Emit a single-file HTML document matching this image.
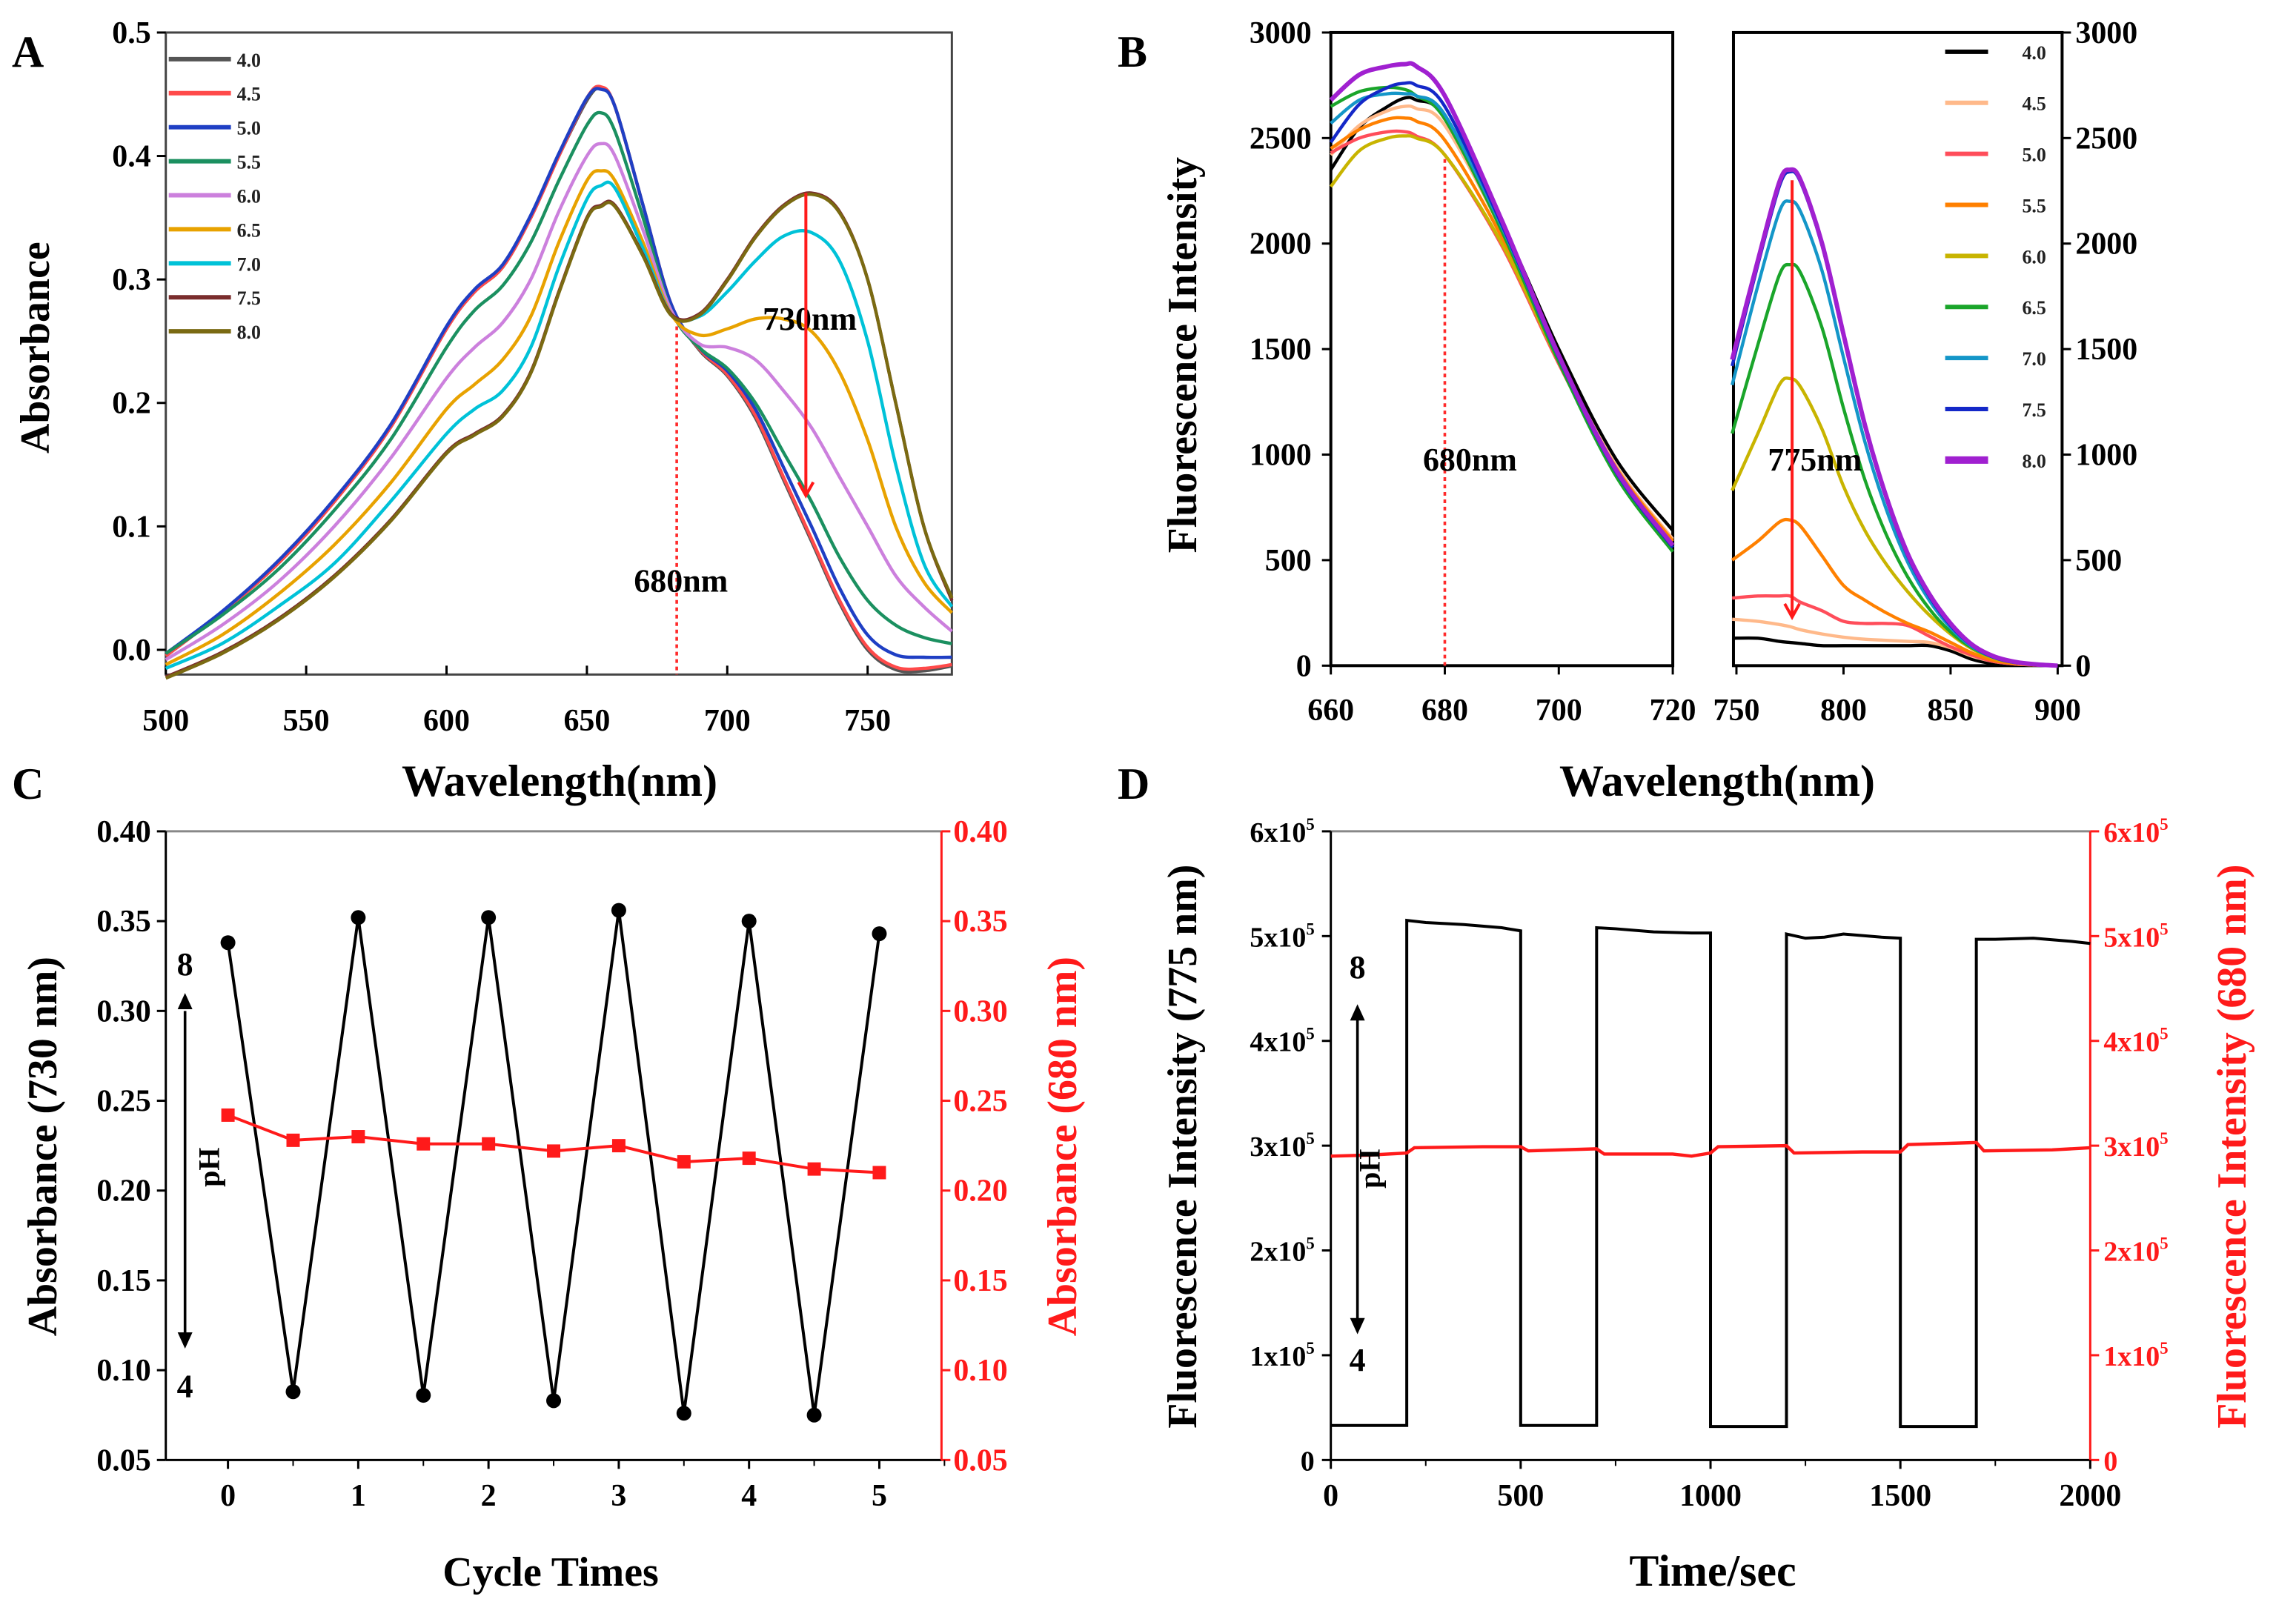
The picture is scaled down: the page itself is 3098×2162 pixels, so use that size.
<!DOCTYPE html>
<html><head><meta charset="utf-8"><title>pH response figure</title>
<style>html,body{margin:0;padding:0;background:#fff}svg{display:block}
text{font-family:"Liberation Serif",serif;font-weight:bold}</style></head>
<body>
<svg id="fig" xmlns="http://www.w3.org/2000/svg" width="3098" height="2162" viewBox="0 0 1551 1083" preserveAspectRatio="none">
<rect x="0" y="0" width="1551" height="1083" fill="#fff"/>
</svg>
<script>
// ---------- Panel A data ----------
const aWave = [500,520,540,560,580,600,610,620,630,640,650,655,660,670,680,690,700,710,720,730,740,750,760,770,780];
const aLabels = ['4.0','4.5','5.0','5.5','6.0','6.5','7.0','7.5','8.0'];
const aColors = ['#555555','#ff4a4a','#1f3fc4','#1b9060','#cc80dd','#e8a200','#00c2d8','#7a2d2d','#7a6a12'];
const aPH40 = [-0.005,0.03,0.07,0.12,0.18,0.26,0.29,0.31,0.35,0.40,0.445,0.455,0.44,0.36,0.28,0.243,0.222,0.188,0.138,0.088,0.038,0.0,-0.016,-0.017,-0.013];
const aPH45 = [-0.005,0.03,0.07,0.12,0.18,0.26,0.29,0.31,0.35,0.40,0.447,0.456,0.44,0.36,0.28,0.244,0.223,0.19,0.14,0.09,0.04,0.002,-0.014,-0.015,-0.012];
const aPH50 = [-0.003,0.031,0.072,0.122,0.182,0.262,0.292,0.312,0.352,0.402,0.447,0.454,0.44,0.36,0.28,0.245,0.226,0.195,0.148,0.1,0.05,0.012,-0.004,-0.006,-0.006];
const aPH55 = [-0.003,0.028,0.065,0.113,0.17,0.245,0.275,0.295,0.33,0.38,0.425,0.435,0.42,0.35,0.275,0.245,0.228,0.2,0.16,0.12,0.075,0.04,0.02,0.01,0.005];
const aPH60 = [-0.008,0.02,0.055,0.1,0.155,0.22,0.245,0.265,0.3,0.355,0.4,0.41,0.4,0.34,0.275,0.248,0.245,0.235,0.21,0.18,0.14,0.1,0.06,0.035,0.015];
const aPH65 = [-0.012,0.012,0.045,0.085,0.135,0.195,0.215,0.235,0.27,0.33,0.38,0.388,0.38,0.33,0.272,0.255,0.26,0.268,0.268,0.258,0.225,0.17,0.1,0.055,0.03];
const aPH70 = [-0.015,0.005,0.035,0.07,0.12,0.175,0.195,0.21,0.245,0.31,0.365,0.376,0.374,0.325,0.272,0.27,0.29,0.315,0.335,0.338,0.315,0.25,0.15,0.07,0.035];
const aPH75 = [-0.022,-0.002,0.025,0.06,0.105,0.16,0.175,0.19,0.225,0.29,0.35,0.36,0.36,0.32,0.272,0.272,0.3,0.335,0.36,0.37,0.355,0.3,0.2,0.1,0.04];
const aPH80 = [-0.023,-0.003,0.024,0.059,0.104,0.159,0.174,0.189,0.224,0.289,0.349,0.359,0.359,0.319,0.271,0.271,0.299,0.334,0.359,0.369,0.354,0.3,0.2,0.1,0.042];
const aXTicks = [500,550,600,650,700,750];
const aYTicks = [0.0,0.1,0.2,0.3,0.4,0.5];

// ---------- Panel B data ----------
const bLabels = ['4.0','4.5','5.0','5.5','6.0','6.5','7.0','7.5','8.0'];
const bColors = ['#000000','#ffb98a','#ff4d5a','#ff8000','#c8b400','#1aa52a','#1496c8','#1428c8','#a020d0'];
const bLeftWave = [660,665,670,673,675,680,690,700,710,720];
const bL40 = [2350,2550,2650,2690,2680,2600,2100,1500,980,640];
const bL45 = [2420,2560,2630,2650,2640,2560,2060,1460,950,600];
const bL50 = [2430,2500,2530,2530,2510,2420,1990,1430,930,590];
const bL55 = [2450,2540,2590,2595,2580,2490,2030,1450,940,590];
const bL60 = [2270,2440,2500,2510,2500,2420,2000,1440,930,570];
const bL65 = [2650,2720,2740,2730,2700,2590,2060,1440,900,540];
const bL70 = [2570,2680,2710,2710,2700,2610,2080,1460,920,560];
const bL75 = [2480,2660,2740,2760,2750,2650,2090,1460,920,560];
const bL80 = [2680,2800,2840,2850,2840,2700,2110,1470,930,570];
const bRightWave = [748,760,770,775,780,790,800,810,820,830,840,850,860,870,880,890,900];
const bR40 = [130,130,115,110,105,95,95,95,95,95,95,70,30,10,5,2,0];
const bR45 = [220,210,195,185,170,150,135,125,120,115,110,85,45,20,8,3,0];
const bR50 = [320,330,330,330,300,260,210,200,200,190,140,90,50,20,8,3,0];
const bR55 = [500,590,680,690,660,520,380,310,250,200,160,110,60,25,10,4,0];
const bR60 = [830,1100,1330,1360,1320,1120,850,640,480,350,240,150,80,35,15,5,0];
const bR65 = [1100,1520,1850,1900,1860,1600,1220,880,620,420,270,160,85,40,15,5,0];
const bR70 = [1330,1800,2150,2200,2150,1870,1460,1060,740,490,310,180,90,40,15,5,0];
const bR75 = [1420,1900,2270,2340,2290,1990,1560,1130,790,520,330,190,95,40,15,5,0];
const bR80 = [1450,1920,2290,2350,2300,2000,1570,1140,800,530,340,200,100,45,18,6,0];
const bYTicks = [0,500,1000,1500,2000,2500,3000];
const bLeftXTicks = [660,680,700,720];
const bRightXTicks = [750,800,850,900];

// ---------- Panel C data ----------
const cCycles = [0,0.5,1,1.5,2,2.5,3,3.5,4,4.5,5];
const cAbs730 = [0.338,0.088,0.352,0.086,0.352,0.083,0.356,0.076,0.350,0.075,0.343];
const cAbs680 = [0.242,0.228,0.230,0.226,0.226,0.222,0.225,0.216,0.218,0.212,0.210];
const cXTicks = [0,1,2,3,4,5];
const cYTicks = [0.05,0.10,0.15,0.20,0.25,0.30,0.35,0.40];

// ---------- Panel D data ----------
const dTime775 = [0,200,200,250,350,450,500,500,700,700,750,850,950,1000,1000,1200,1200,1250,1300,1350,1450,1500,1500,1700,1700,1750,1850,1950,2000];
const dInt775 = [0.33,0.33,5.15,5.13,5.11,5.08,5.05,0.33,0.33,5.08,5.07,5.04,5.03,5.03,0.32,0.32,5.02,4.98,4.99,5.02,4.99,4.98,0.32,0.32,4.97,4.97,4.98,4.95,4.93];
const dTime680 = [0,100,200,220,400,500,520,700,720,900,950,1000,1020,1200,1220,1400,1500,1520,1700,1720,1900,2000];
const dInt680 = [2.90,2.91,2.93,2.98,2.99,2.99,2.95,2.97,2.92,2.92,2.90,2.93,2.99,3.00,2.93,2.94,2.94,3.01,3.03,2.95,2.96,2.98];
const dXTicks = [0,500,1000,1500,2000];
const dYTicks = [0,1,2,3,4,5,6];

// ---------- helpers ----------
const NS='http://www.w3.org/2000/svg';
const svg=document.getElementById('fig');
function mk(tag,attrs,parent){const e=document.createElementNS(NS,tag);for(const k in attrs)e.setAttribute(k,attrs[k]);(parent||svg).appendChild(e);return e;}
function lin(d0,d1,r0,r1){return v=>r0+(v-d0)*(r1-r0)/(d1-d0);}
function smooth(pts){let d='M'+pts[0][0].toFixed(2)+','+pts[0][1].toFixed(2);
 for(let i=0;i<pts.length-1;i++){const p0=pts[i-1]||pts[i],p1=pts[i],p2=pts[i+1],p3=pts[i+2]||p2;
  const c1=[p1[0]+(p2[0]-p0[0])/6,p1[1]+(p2[1]-p0[1])/6],c2=[p2[0]-(p3[0]-p1[0])/6,p2[1]-(p3[1]-p1[1])/6];
  d+='C'+c1[0].toFixed(2)+','+c1[1].toFixed(2)+' '+c2[0].toFixed(2)+','+c2[1].toFixed(2)+' '+p2[0].toFixed(2)+','+p2[1].toFixed(2);}
 return d;}
function poly(xs,ys,fx,fy){return xs.map((x,i)=>(i?'L':'M')+fx(x).toFixed(2)+','+fy(ys[i]).toFixed(2)).join('');}
function txt(x,y,s,size,anchor,fill,name,rot){const t=mk('text',{x:x,y:y,'font-size':size,'text-anchor':anchor||'middle',fill:fill||'#000'});
 if(rot)t.setAttribute('transform','rotate('+rot+' '+x+' '+y+')');t.textContent=s;
 
 
 return t;}
function line(x1,y1,x2,y2,stroke,w,name,dash){const l=mk('line',{x1:x1,y1:y1,x2:x2,y2:y2,stroke:stroke,'stroke-width':w});
 if(dash)l.setAttribute('stroke-dasharray',dash);
 
 
 return l;}
function arrowHead(x,y,dir,color,name){const s=dir>0?1:-1;const p=mk('path',{d:`M${x-5},${y-9*s}L${x},${y}L${x+5},${y-9*s}`,fill:'none',stroke:color,'stroke-width':2});
 
 }
function triHead(x,y,dir,color,name){const s=dir>0?1:-1;const p=mk('path',{d:`M${x-5},${y-11*s}L${x},${y}L${x+5},${y-11*s}Z`,fill:color,stroke:'none'});
 
 }
function supLabel(x,y,base,size,fill,anchor,name){const t=mk('text',{x:x,y:y,'font-size':size,'text-anchor':anchor,fill:fill,'font-weight':'normal'});
 
 
 if(base===0){t.textContent='0';return;}
 const a=document.createElementNS(NS,'tspan');a.textContent=base+'x10';t.appendChild(a);
 const b=document.createElementNS(NS,'tspan');b.textContent='5';b.setAttribute('dy',-8);b.setAttribute('font-size',size*0.6);t.appendChild(b);}

// ================= Panel A =================
const xA=lin(500,780,112,643), yA=lin(-0.02,0.5,456,22);
txt(8,45,'A',30,'start','#000','panel-a-letter');
let r=mk('rect',{x:112,y:22,width:531,height:434,fill:'none',stroke:'#444','stroke-width':1.5});


aYTicks.forEach(v=>{line(106,yA(v),112,yA(v),'#000',1.5,'a-y-tick');txt(102,yA(v)+7,v.toFixed(1),21,'end','#000','a-y-tick-label');});
aXTicks.forEach(v=>{line(xA(v),456,xA(v),450,'#000',1.5,'a-x-tick');txt(xA(v),494,String(v),21,'middle','#000','a-x-tick-label');});
txt(33,235,'Absorbance',28,'middle','#000','a-y-axis-title',-90);
txt(378,538,'Wavelength(nm)',30,'middle','#000','a-x-axis-title');
const aSeries=[aPH40,aPH45,aPH50,aPH55,aPH60,aPH65,aPH70,aPH75,aPH80];
const aDraw=[0,1,2,3,4,5,6,7,8];
aDraw.forEach(i=>{const pts=aWave.map((w,j)=>[xA(w),yA(aSeries[i][j])]);
 const p=mk('path',{d:smooth(pts),fill:'none',stroke:aColors[i],'stroke-width':2.2});
 
 });
aLabels.forEach((l,i)=>{const y=40+23*i;line(114,y,156,y,aColors[i],3,'a-legend-line-'+l);txt(160,y+5,l,13,'start','#222','a-legend-label-'+l);});
line(xA(682),yA(0.262),xA(682),456,'#ff2a2a',1.8,'a-680nm-marker','2.5,2.5');
txt(460,400,'680nm',22,'middle','#000','a-680nm-label');
txt(547,223,'730nm',22,'middle','#000','a-730nm-label');
line(xA(728),yA(0.37),xA(728),yA(0.125),'#ff1a1a',2,'a-arrow-shaft');
arrowHead(xA(728),yA(0.125),1,'#ff1a1a','a-arrow-head');

// ================= Panel B =================
const xBL=lin(660,720,899,1130), xBR=lin(750,900,1173,1390), yB=lin(0,3000,450,22);
txt(755,45,'B',30,'start','#000','panel-b-letter');
r=mk('rect',{x:899,y:22,width:231,height:428,fill:'none',stroke:'#000','stroke-width':2});


r=mk('rect',{x:1171,y:22,width:222,height:428,fill:'none',stroke:'#000','stroke-width':2});


bYTicks.forEach(v=>{line(893,yB(v),899,yB(v),'#000',1.5,'b-left-y-tick');txt(886,yB(v)+7,String(v),21,'end','#000','b-left-y-tick-label');
 line(1393,yB(v),1399,yB(v),'#000',1.5,'b-right-y-tick');txt(1402,yB(v)+7,String(v),21,'start','#000','b-right-y-tick-label');});
bLeftXTicks.forEach(v=>{line(xBL(v),450,xBL(v),456,'#000',1.5,'b-left-x-tick');txt(xBL(v),487,String(v),21,'middle','#000','b-left-x-tick-label');});
bRightXTicks.forEach(v=>{line(xBR(v),450,xBR(v),456,'#000',1.5,'b-right-x-tick');txt(xBR(v),487,String(v),21,'middle','#000','b-right-x-tick-label');});
txt(808,240,'Fluorescence  Intensity',28,'middle','#000','b-y-axis-title',-90);
txt(1160,538,'Wavelength(nm)',30,'middle','#000','b-x-axis-title');
const bLeft=[bL40,bL45,bL50,bL55,bL60,bL65,bL70,bL75,bL80];
const bRight=[bR40,bR45,bR50,bR55,bR60,bR65,bR70,bR75,bR80];
bLabels.forEach((l,i)=>{
 let p=mk('path',{d:smooth(bLeftWave.map((w,j)=>[xBL(w),yB(bLeft[i][j])])),fill:'none',stroke:bColors[i],'stroke-width':i===8?3:2.2});
 
 
 p=mk('path',{d:smooth(bRightWave.map((w,j)=>[xBR(w),yB(bRight[i][j])])),fill:'none',stroke:bColors[i],'stroke-width':i===8?3:2.2});
 
 
 const y=35+34.5*i;line(1314,y,1343,y,bColors[i],i===8?5:3,'b-legend-line-'+l);txt(1366,y+5,l,13,'start','#222','b-legend-label-'+l);});
line(xBL(680),yB(2400),xBL(680),450,'#ff2a2a',1.8,'b-680nm-marker','2.5,2.5');
txt(993,318,'680nm',22,'middle','#000','b-680nm-label');
txt(1226,318,'775nm',22,'middle','#000','b-775nm-label');
line(xBR(776),yB(2300),xBR(776),yB(230),'#ff1a1a',2,'b-arrow-shaft');
arrowHead(xBR(776),yB(230),1,'#ff1a1a','b-arrow-head');

// ================= Panel C =================
const xC=lin(0,5,154,594), yC=lin(0.05,0.40,987,562);
txt(8,540,'C',30,'start','#000','panel-c-letter');
line(112,562,636,562,'#888',1.5,'c-top-border');
line(112,562,112,987,'#000',1.5,'c-left-axis');
line(112,987,636,987,'#000',1.5,'c-bottom-axis');
line(636,562,636,987,'#ff1a1a',1.5,'c-right-axis');
cYTicks.forEach(v=>{line(106,yC(v),112,yC(v),'#000',1.5,'c-left-y-tick');txt(102,yC(v)+7,v.toFixed(2),21,'end','#000','c-left-y-tick-label');
 line(636,yC(v),642,yC(v),'#ff1a1a',1.5,'c-right-y-tick');txt(644,yC(v)+7,v.toFixed(2),21,'start','#ff1a1a','c-right-y-tick-label');});
cXTicks.forEach(v=>{line(xC(v),987,xC(v),993,'#000',1.5,'c-x-tick');line(xC(v+0.5),987,xC(v+0.5),991,'#000',1,'c-x-minor-tick');txt(xC(v),1018,String(v),21,'middle','#000','c-x-tick-label');});
txt(38,775,'Absorbance  (730 nm)',28,'middle','#000','c-left-y-axis-title',-90);
txt(727,775,'Absorbance (680 nm)',28,'middle','#ff1a1a','c-right-y-axis-title',-90);
txt(372,1072,'Cycle Times',28,'middle','#000','c-x-axis-title');
let pc=mk('path',{d:poly(cCycles,cAbs730,xC,yC),fill:'none',stroke:'#000','stroke-width':2});


pc=mk('path',{d:poly(cCycles,cAbs680,xC,yC),fill:'none',stroke:'#ff1a1a','stroke-width':2});


cCycles.forEach((c,i)=>{const m=mk('circle',{cx:xC(c),cy:yC(cAbs730[i]),r:5,fill:'#000'});
 
 
 const s=mk('rect',{x:xC(c)-4.5,y:yC(cAbs680[i])-4.5,width:9,height:9,fill:'#ff1a1a'});
 
 });
line(125,yC(0.300),125,yC(0.120),'#000',1.8,'c-ph-arrow');
triHead(125,yC(0.310),-1,'#000','c-ph-arrow-up');triHead(125,yC(0.112),1,'#000','c-ph-arrow-down');
txt(125,yC(0.32),'8',22,'middle','#000','c-ph-high-label');
txt(125,yC(0.085),'4',22,'middle','#000','c-ph-low-label');
let tp=txt(148,yC(0.213),'pH',20,'middle','#000','c-ph-label',-90);tp.setAttribute('font-weight','normal');

// ================= Panel D =================
const xD=lin(0,2000,899,1412), yD=lin(0,6,987,562);
txt(755,540,'D',30,'start','#000','panel-d-letter');
line(899,562,1412,562,'#888',1.5,'d-top-border');
line(899,562,899,987,'#000',1.5,'d-left-axis');
line(899,987,1412,987,'#000',1.5,'d-bottom-axis');
line(1412,562,1412,987,'#ff1a1a',1.5,'d-right-axis');
dYTicks.forEach(v=>{line(893,yD(v),899,yD(v),'#000',1.5,'d-left-y-tick');supLabel(888,yD(v)+7,v,19,'#000','end','d-left-y-tick-label');
 line(1412,yD(v),1418,yD(v),'#ff1a1a',1.5,'d-right-y-tick');supLabel(1421,yD(v)+7,v,19,'#ff1a1a','start','d-right-y-tick-label');});
dXTicks.forEach(v=>{line(xD(v),987,xD(v),993,'#000',1.5,'d-x-tick');if(v<2000)line(xD(v+250),987,xD(v+250),991,'#000',1,'d-x-minor-tick');txt(xD(v),1018,String(v),21,'middle','#000','d-x-tick-label');});
txt(808,775,'Fluorescence  Intensity  (775 nm)',28,'middle','#000','d-left-y-axis-title',-90);
txt(1517,775,'Fluorescence  Intensity (680 nm)',28,'middle','#ff1a1a','d-right-y-axis-title',-90);
txt(1157,1072,'Time/sec',30,'middle','#000','d-x-axis-title');
let pd=mk('path',{d:poly(dTime775,dInt775,xD,yD),fill:'none',stroke:'#000','stroke-width':2});


pd=mk('path',{d:poly(dTime680,dInt680,xD,yD),fill:'none',stroke:'#ff1a1a','stroke-width':2.2});


line(917,yD(4.2),917,yD(1.3),'#000',1.8,'d-ph-arrow');
triHead(917,yD(4.35),-1,'#000','d-ph-arrow-up');triHead(917,yD(1.2),1,'#000','d-ph-arrow-down');
txt(917,yD(4.6),'8',22,'middle','#000','d-ph-high-label');
txt(917,yD(0.85),'4',22,'middle','#000','d-ph-low-label');
tp=txt(932,yD(2.78),'pH',20,'middle','#000','d-ph-label',-90);tp.setAttribute('font-weight','normal');
</script>
</body></html>
